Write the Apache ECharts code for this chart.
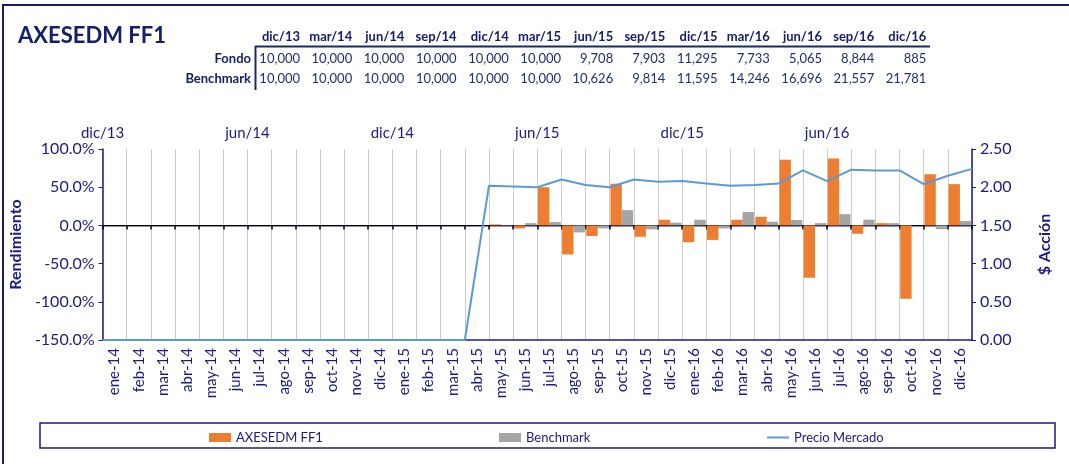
<!DOCTYPE html>
<html>
<head>
<meta charset="utf-8">
<script src="https://cdn.jsdelivr.net/npm/echarts@6/dist/echarts.min.js"></script>
<style>
 html,body{margin:0;padding:0;background:#fff;}
 #main{width:1069px;height:464px;}
</style>
</head>
<body>
<div id="main"></div>
<script>
 // meses del eje inferior (barras)
 var months = ['ene-14','feb-14','mar-14','abr-14','may-14','jun-14','jul-14','ago-14','sep-14','oct-14','nov-14','dic-14',
	'ene-15','feb-15','mar-15','abr-15','may-15','jun-15','jul-15','ago-15','sep-15','oct-15','nov-15','dic-15',
	'ene-16','feb-16','mar-16','abr-16','may-16','jun-16','jul-16','ago-16','sep-16','oct-16','nov-16','dic-16'];
 // cortes de mes del eje superior (precio)
 var cutMonths = ['dic/13','ene/14','feb/14','mar/14','abr/14','may/14','jun/14','jul/14','ago/14','sep/14','oct/14','nov/14','dic/14',
	'ene/15','feb/15','mar/15','abr/15','may/15','jun/15','jul/15','ago/15','sep/15','oct/15','nov/15','dic/15',
	'ene/16','feb/16','mar/16','abr/16','may/16','jun/16','jul/16','ago/16','sep/16','oct/16','nov/16','dic/16'];
 // rendimiento mensual (%)
 var fondoRet = [0,0,0,0,0,0,0,0,0,0,0,0, 0,0,0,0,1.3,-4,50,-38,-14,54.5,-14.8,7.4,
	-22,-19,7.4,11.3,86,-68.5,87.7,-10.9,3,-96,67,54];
 var benchRet = [0,0,0,0,0,0,0,0,0,0,0,0, 0,0,0,0,0.5,3,4.4,-9.2,-3.9,20,-5.2,3.5,
	7.4,-3.9,17.5,4.8,7,3,14.8,7.5,3,0,-5,5.7];
 // precio de mercado al cierre de cada mes
 var precio = [0,0,0,0,0,0,0,0,0,0,0,0,0,0,0,0,2.02,2.01,2.0,2.10,2.03,2.0,2.10,2.07,2.08,2.05,2.02,2.03,2.05,
	2.22,2.08,2.23,2.22,2.22,2.04,2.15,2.24];
 // tabla superior
 var tablaCols = ['dic/13','mar/14','jun/14','sep/14','dic/14','mar/15','jun/15','sep/15','dic/15','mar/16','jun/16','sep/16','dic/16'];
 var tablaFondo = ['10,000','10,000','10,000','10,000','10,000','10,000','9,708','7,903','11,295','7,733','5,065','8,844','885'];
 var tablaBench = ['10,000','10,000','10,000','10,000','10,000','10,000','10,626','9,814','11,595','14,246','16,696','21,557','21,781'];

 var navy = '#1a1a80';
 var fuente = 'Lato';

 var myChart = echarts.init(document.getElementById('main'));

 // marcos, titulo y tabla
 var graficos = [
	{type:'rect', shape:{x:3,y:5,width:1090,height:480}, style:{fill:'none',stroke:'#1a1a6e',lineWidth:2}, silent:true},
	{type:'rect', shape:{x:40,y:423,width:1015,height:25}, style:{fill:'none',stroke:'#1a1a80',lineWidth:1.5}, silent:true},
	{type:'text', x:18, y:36, style:{text:'AXESEDM FF1', fill:'#14206a', font:'bold 22px ' + fuente, textVerticalAlign:'middle'}},
	{type:'line', shape:{x1:255,y1:46.5,x2:930,y2:46.5}, style:{stroke:'#1b2a5e',lineWidth:2}},
	{type:'line', shape:{x1:255.5,y1:46,x2:255.5,y2:90}, style:{stroke:'#1b2a5e',lineWidth:2}},
	{type:'text', x:251, y:59, style:{text:'Fondo', fill:'#14206a', font:'bold 13px ' + fuente, textAlign:'right', textVerticalAlign:'middle'}},
	{type:'text', x:251, y:79, style:{text:'Benchmark', fill:'#14206a', font:'bold 13px ' + fuente, textAlign:'right', textVerticalAlign:'middle'}}
 ];
 tablaCols.forEach(function(c, i){
	var xr = 300 + 52.2 * i;
	graficos.push({type:'text', x:xr, y:37, style:{text:c, fill:'#14206a', font:'bold 13px ' + fuente, textAlign:'right', textVerticalAlign:'middle'}});
	graficos.push({type:'text', x:xr, y:59, style:{text:tablaFondo[i], fill:'#1f2f6e', font:'13px ' + fuente, textAlign:'right', textVerticalAlign:'middle'}});
	graficos.push({type:'text', x:xr, y:79, style:{text:tablaBench[i], fill:'#1f2f6e', font:'13px ' + fuente, textAlign:'right', textVerticalAlign:'middle'}});
 });

 var leyenda = function(nombre, left, icono){
	return {
		data: [{name: nombre, icon: icono}],
		left: left,
		top: 426,
		itemWidth: 22,
		itemHeight: 9,
		itemGap: 5,
		textStyle: {color: navy, fontSize: 13, fontFamily: fuente},
		selectedMode: false
	};
 };

 var option = {
	animation: false,
	textStyle: {fontFamily: fuente},
	graphic: graficos,
	legend: [
		leyenda('AXESEDM FF1', 204, 'rect'),
		leyenda('Benchmark', 494, 'rect'),
		leyenda('Precio Mercado', 762, 'path://M0,4 L22,4 L22,6 L0,6 Z')
	],
	grid: {left: 100, right: 97, top: 149, bottom: 124},
	xAxis: [
		{	// eje inferior con etiquetas
			type: 'category',
			data: months,
			position: 'bottom',
			axisLine: {onZero: false, lineStyle: {color: navy, width: 1.5}},
			axisTick: {show: false},
			axisLabel: {rotate: 90, color: navy, fontSize: 15, margin: 8, interval: 0},
			splitLine: {show: true, interval: 0, lineStyle: {color: '#cccccc', width: 1}}
		},
		{	// eje superior para el precio
			type: 'category',
			data: cutMonths,
			position: 'top',
			boundaryGap: false,
			axisLine: {lineStyle: {color: '#6a6ab8', width: 1.5}},
			axisTick: {show: false},
			axisLabel: {
				color: navy, fontSize: 15, margin: 8,
				interval: function(index){ return index % 6 === 0 && index < 36; }
			},
			splitLine: {show: false}
		},
		{	// linea del cero
			type: 'category',
			data: months,
			position: 'bottom',
			axisLine: {onZero: true, onZeroAxisIndex: 0, lineStyle: {color: '#000', width: 1}},
			axisTick: {show: true, interval: 0, length: 4, lineStyle: {color: '#000', width: 1.5}},
			axisLabel: {show: false, interval: 0},
			splitLine: {show: false}
		}
	],
	yAxis: [
		{
			type: 'value',
			min: -150, max: 100, interval: 50,
			name: 'Rendimiento',
			nameLocation: 'middle',
			nameRotate: 90,
			nameGap: 74,
			nameTextStyle: {color: navy, fontSize: 16, fontWeight: 'bold'},
			axisLine: {show: true, lineStyle: {color: navy, width: 1.5}},
			axisTick: {show: true, length: 4, lineStyle: {color: navy}},
			axisLabel: {color: navy, fontSize: 16, margin: 8, formatter: function(v){ return v.toFixed(1) + '%'; }},
			splitLine: {show: false}
		},
		{
			type: 'value',
			min: 0, max: 2.5, interval: 0.5,
			name: '$ Acción',
			nameLocation: 'middle',
			nameRotate: 90,
			nameGap: 65,
			nameTextStyle: {color: navy, fontSize: 16, fontWeight: 'bold'},
			axisLine: {show: true, lineStyle: {color: navy, width: 1.5}},
			axisTick: {show: true, length: 4, lineStyle: {color: navy}},
			axisLabel: {color: navy, fontSize: 16, margin: 8, formatter: function(v){ return v.toFixed(2); }},
			splitLine: {show: false}
		}
	],
	series: [
		{
			name: 'AXESEDM FF1',
			type: 'bar',
			xAxisIndex: 0,
			yAxisIndex: 0,
			barGap: '0%',
			barCategoryGap: '6%',
			itemStyle: {color: '#ED7D31'},
			z: 2,
			data: fondoRet
		},
		{
			name: 'Benchmark',
			type: 'bar',
			xAxisIndex: 0,
			yAxisIndex: 0,
			itemStyle: {color: '#A5A5A5'},
			z: 2,
			data: benchRet
		},
		{
			name: 'Precio Mercado',
			type: 'line',
			xAxisIndex: 1,
			yAxisIndex: 1,
			symbol: 'none',
			lineStyle: {color: '#5B9BD5', width: 2},
			itemStyle: {color: '#5B9BD5'},
			z: 5,
			data: precio
		}
	]
 };
 myChart.setOption(option);
</script>
</body>
</html>
